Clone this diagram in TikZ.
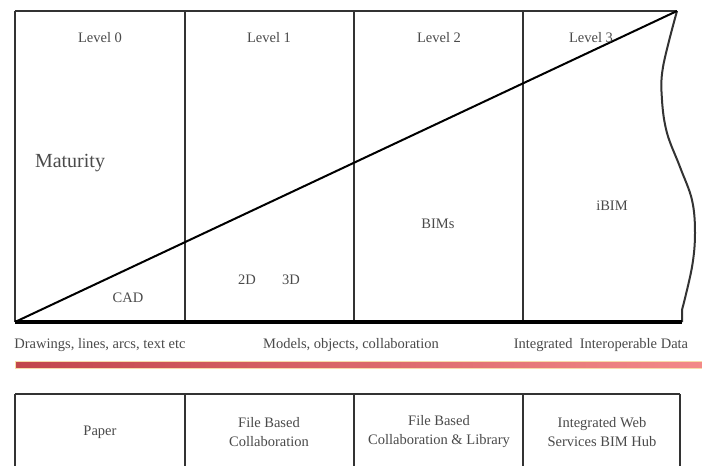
\documentclass[tikz,border=0pt]{standalone}
\usepackage{fontspec}
\setmainfont{Liberation Serif}
\usetikzlibrary{arrows}
\definecolor{txtgray}{HTML}{4A4A4A}
\definecolor{linegray}{HTML}{333333}
\definecolor{barleft}{HTML}{C2474B}
\definecolor{barright}{HTML}{F38A88}
\definecolor{baredge}{HTML}{F7DDA8}
\begin{document}
\begin{tikzpicture}[x=1pt,y=-1pt]
	\tikzstyle{every node}=[text=txtgray, font=\fontsize{14.5}{19}\selectfont, align=center, inner sep=0pt]
	\tikzstyle{frame}=[draw=linegray, line width=2pt]
	\useasboundingbox (0,0) rectangle (702,466);
	\clip (0,0) rectangle (702,466);
	\fill[white] (0,0) rectangle (702,466);
	% corners of the level box
	\coordinate (tl) at (15,11);
	\coordinate (tr) at (677,11);
	\coordinate (bl) at (15,322);
	\coordinate (br) at (682,322);
	\coordinate (d1t) at (185,11);
	\coordinate (d1b) at (185,322);
	\coordinate (d2t) at (354,11);
	\coordinate (d2b) at (354,322);
	\coordinate (d3t) at (523,11);
	\coordinate (d3b) at (523,322);
	\draw[frame] (tl) -- (tr);
	\draw[frame] (tl) -- (bl);
	\draw[frame] (d1t) -- (d1b);
	\draw[frame] (d2t) -- (d2b);
	\draw[frame] (d3t) -- (d3b);
	\draw[frame] (tr) plot[smooth, tension=.6] coordinates {(677,11) (663,67) (662,100) (667,133) (680,167) (692,200) (695,233) (692,267) (682,310)} -- (br);
	\draw[black, line width=3.2pt] (bl) -- (br);
	\draw[black, line width=2pt] (bl) -- (tr);
	% level labels
	\draw (100,38) node (lvl0) {Level 0};
	\draw (269,38) node (lvl1) {Level 1};
	\draw (439,38) node (lvl2) {Level 2};
	\draw (591,38) node (lvl3) {Level 3};
	\draw (70,163) node (mat) [font=\fontsize{20}{24}\selectfont] {Maturity};
	\draw (128,298) node (cad) {CAD};
	\draw (247,280) node (twod) {2D};
	\draw (291,280) node (threed) {3D};
	\draw (438,224) node (bims) {BIMs};
	\draw (612,206) node (ibim) {iBIM};
	% what each stage works with
	\draw (100,345) node (drw) {Drawings, lines, arcs, text etc};
	\draw (351,345) node (mdl) {Models, objects, collaboration};
	\draw (601,345) node (intg) {Integrated\ \ Interoperable Data};
	\shade[left color=barleft, right color=barright, draw=baredge, line width=.6pt] (15,361) rectangle (704,368);
	% collaboration row
	\coordinate (btl) at (15,394);
	\coordinate (btr) at (680,394);
	\draw[frame] (btl) -- (btr);
	\draw[frame] (btl) -- (15,470);
	\draw[frame] (185,394) -- (185,470);
	\draw[frame] (354,394) -- (354,470);
	\draw[frame] (523,394) -- (523,470);
	\draw[frame] (btr) -- (680,470);
	\draw (100,432) node (paper) {Paper};
	\draw (269,432) node (fbc) {File Based\\Collaboration};
	\draw (439,432) node (fbcl) {File Based\\Collaboration \& Library};
	\draw (602,432) node (hub) {Integrated Web\\Services BIM Hub};
\end{tikzpicture}
\end{document}
